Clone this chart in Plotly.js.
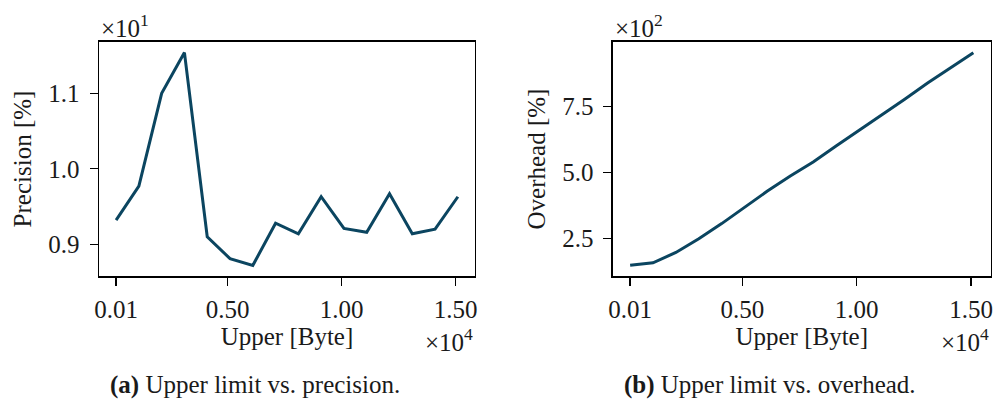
<!DOCTYPE html>
<html>
<head>
<meta charset="utf-8">
<script src="https://cdn.plot.ly/plotly-3.0.1.min.js"></script>
<style>html,body{margin:0;padding:0;background:#fff;}#chart{width:993px;height:405px;}</style>
</head>
<body>
<div id="chart"></div>
<script>
// Upper limit in bytes
const upperBytes = [100, 1100, 2100, 3100, 4100, 5100, 6100, 7100, 8100, 9100, 10100, 11100, 12100, 13100, 14100, 15100];
// Precision [%]
const precision = [9.32, 9.77, 11.0, 11.54, 9.10, 8.81, 8.72, 9.28, 9.14, 9.63, 9.21, 9.16, 9.67, 9.14, 9.20, 9.63];
// Overhead [%]
const overhead = [150, 159, 198, 250, 307, 370, 430, 487, 540, 600, 658, 717, 777, 838, 896, 952];

const xTickVals = [100, 5000, 10000, 15000];
const xTickText = ["0.01", "0.50", "1.00", "1.50"];
const precTickVals = [9, 10, 11];
const precTickText = ["0.9", "1.0", "1.1"];
const ovhTickVals = [250, 500, 750];
const ovhTickText = ["2.5", "5.0", "7.5"];

const FONT = "Liberation Serif, Times New Roman, serif";
const FS = 25;
const LINE = "#0b4560";
const TXT = "#1a1a1a";

const traces = [
  {x: upperBytes, y: precision, xaxis: "x", yaxis: "y", mode: "lines",
   line: {color: LINE, width: 3}, hoverinfo: "none"},
  {x: upperBytes, y: overhead, xaxis: "x2", yaxis: "y2", mode: "lines",
   line: {color: LINE, width: 3}, hoverinfo: "none"}
];

function xAxis(domain, anchor) {
  return {
    domain: domain, anchor: anchor, range: [-650, 15850],
    tickmode: "array", tickvals: xTickVals, ticktext: xTickText,
    ticks: "outside", ticklen: 8, tickwidth: 1.3, tickcolor: "#000",
    ticklabelstandoff: 2,
    showline: true, mirror: true, linecolor: "#000", linewidth: 1.5,
    showgrid: false, zeroline: false,
    tickfont: {family: FONT, size: FS, color: TXT},
    title: {text: "Upper [Byte]", font: {family: FONT, size: FS, color: TXT}, standoff: 6}
  };
}
function yAxis(domain, anchor, range, vals, text, title) {
  return {
    domain: domain, anchor: anchor, range: range,
    tickmode: "array", tickvals: vals, ticktext: text,
    ticks: "outside", ticklen: 8, tickwidth: 1.3, tickcolor: "#000",
    ticklabelstandoff: 5,
    showline: true, mirror: true, linecolor: "#000", linewidth: 1.5,
    showgrid: false, zeroline: false,
    tickfont: {family: FONT, size: FS, color: TXT},
    title: {text: title, font: {family: FONT, size: FS, color: TXT}, standoff: 9}
  };
}

const layout = {
  width: 993, height: 405,
  margin: {l: 0, r: 0, t: 0, b: 0},
  paper_bgcolor: "#fff", plot_bgcolor: "#fff",
  showlegend: false,
  xaxis: xAxis([0.0997, 0.4783], "y"),
  yaxis: yAxis([0.3185, 0.8963], "x", [8.58, 11.68], precTickVals, precTickText, "Precision [%]"),
  xaxis2: xAxis([0.6173, 0.9975], "y2"),
  yaxis2: yAxis([0.3185, 0.8963], "x2", [109, 993], ovhTickVals, ovhTickText, "Overhead [%]"),
  annotations: [
    {text: "×10<sup>1</sup>", xref: "paper", yref: "paper", x: 0.0997, y: 0.935, xanchor: "left", yanchor: "middle", showarrow: false, font: {family: FONT, size: FS, color: TXT}},
    {text: "×10<sup>2</sup>", xref: "paper", yref: "paper", x: 0.6173, y: 0.935, xanchor: "left", yanchor: "middle", showarrow: false, font: {family: FONT, size: FS, color: TXT}},
    {text: "×10<sup>4</sup>", xref: "paper", yref: "paper", x: 0.4783, y: 0.16, xanchor: "right", yanchor: "middle", showarrow: false, font: {family: FONT, size: FS, color: TXT}},
    {text: "×10<sup>4</sup>", xref: "paper", yref: "paper", x: 0.9975, y: 0.16, xanchor: "right", yanchor: "middle", showarrow: false, font: {family: FONT, size: FS, color: TXT}},
    {text: "<b>(a)</b> Upper limit vs. precision.", xref: "paper", yref: "paper", x: 0.257, y: 0.05, xanchor: "center", yanchor: "middle", showarrow: false, font: {family: FONT, size: 25, color: TXT}},
    {text: "<b>(b)</b> Upper limit vs. overhead.", xref: "paper", yref: "paper", x: 0.775, y: 0.05, xanchor: "center", yanchor: "middle", showarrow: false, font: {family: FONT, size: 25, color: TXT}}
  ]
};

Plotly.newPlot("chart", traces, layout, {staticPlot: true, displayModeBar: false});
</script>
</body>
</html>
